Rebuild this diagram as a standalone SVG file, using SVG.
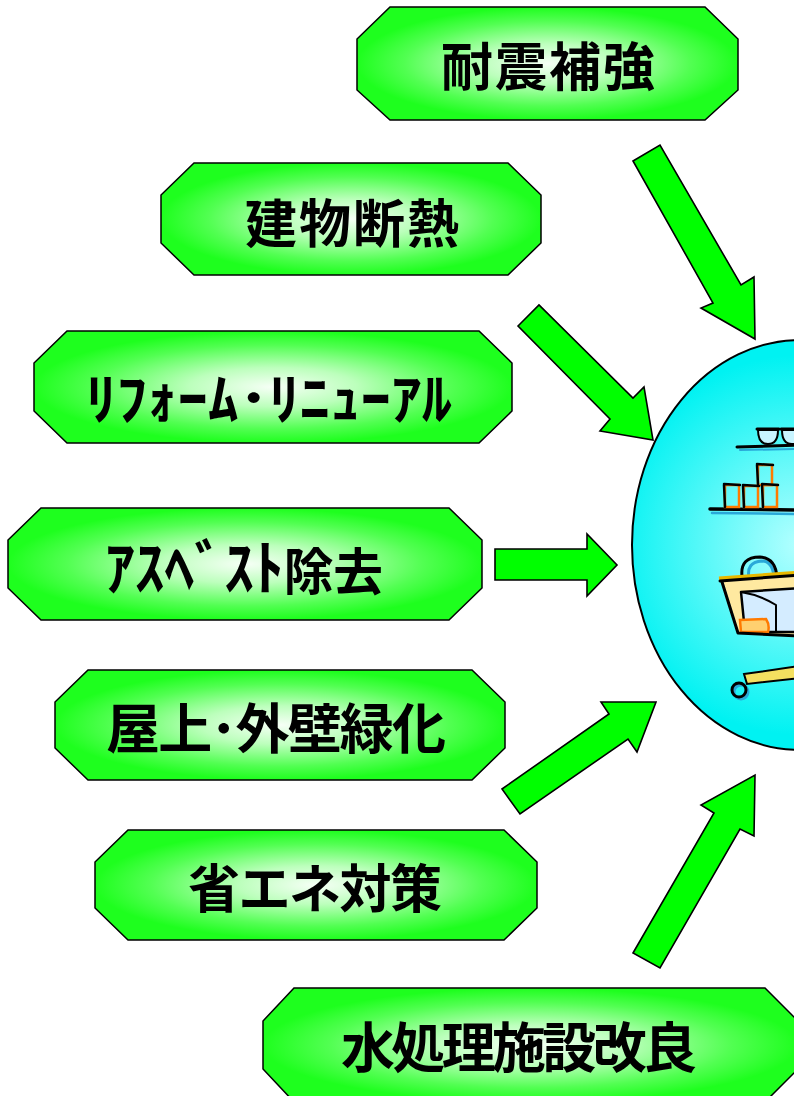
<svg xmlns="http://www.w3.org/2000/svg" width="794" height="1096" viewBox="0 0 794 1096">
  <defs>
    <radialGradient id="nodeFill" cx="0.5" cy="0.5" r="0.5">
      <stop offset="0" stop-color="#f6fff6"/>
      <stop offset="0.35" stop-color="#bcffbc"/>
      <stop offset="0.75" stop-color="#52ff52"/>
      <stop offset="1" stop-color="#1eff1e"/>
    </radialGradient>
    <radialGradient id="hubFill" gradientUnits="userSpaceOnUse" cx="800" cy="545" r="190">
      <stop offset="0" stop-color="#b4ffff"/>
      <stop offset="1" stop-color="#00f2f2"/>
    </radialGradient>
    <clipPath id="hubClip">
      <ellipse cx="800" cy="545" rx="168" ry="205"/>
    </clipPath>
  </defs>
  <style>
    .node { fill: url(#nodeFill); stroke: #000; stroke-width: 1.5; stroke-linejoin: miter; }
    .label { font-family: "Noto Sans CJK JP", "Noto Sans CJK SC", sans-serif; font-weight: bold; fill: #000; }
    .arrow { fill: #00ff00; stroke: #000; stroke-width: 1.6; stroke-linejoin: miter; }
    .ink { fill: none; stroke: #000; stroke-linecap: round; stroke-linejoin: round; }
    .shade { fill: none; stroke: #2aa8d8; stroke-linecap: round; }
  </style>

  <!-- central hub: shop interior -->
  <g id="hub">
    <ellipse cx="800" cy="545" rx="168" ry="205" fill="url(#hubFill)" stroke="#000" stroke-width="2"/>
    <g clip-path="url(#hubClip)">
      <!-- top shelf with bowls -->
      <path class="shade" d="M740,450 L800,449" stroke-width="2"/>
      <path class="ink" d="M737,447 L800,445" stroke-width="3"/>
      <path d="M758,430 L778,430 Q778,444 768,444 Q758,444 758,430 Z" fill="#c8f4ff" stroke="#000" stroke-width="2"/>
      <path d="M782,430 L802,430 Q802,444 792,444 Q782,444 782,430 Z" fill="#c8f4ff" stroke="#000" stroke-width="2"/>
      <path class="ink" d="M757,429 L779,429 M781,429 L800,429" stroke-width="3"/>
      <!-- second shelf with cans -->
      <path class="shade" d="M712,513 L800,514" stroke-width="2.5"/>
      <path class="ink" d="M710,509 L800,510" stroke-width="3.5"/>
      <g fill="none" stroke="#ff7a00" stroke-width="2.5">
        <rect x="725" y="485" width="14" height="22"/>
        <rect x="744" y="486" width="14" height="21"/>
        <rect x="763" y="485" width="14" height="22"/>
        <rect x="758" y="465" width="14" height="20"/>
      </g>
      <path class="ink" d="M724,484 L740,485 M724,485 L725,507 M743,485 L759,486 M743,486 L744,507 M762,484 L778,485 M762,485 L763,507 M757,464 L773,465 M757,465 L758,484" stroke-width="2.5"/>
      <!-- shopping cart -->
      <path class="shade" d="M749,578 Q746,562 762,561 Q772,561 774,576" stroke-width="3"/>
      <path class="ink" d="M742,576 Q740,557 760,557 Q776,558 777,578" stroke-width="3"/>
      <path d="M722,578 L800,572 L800,636 L739,633 Z" fill="#ffe9a0" stroke="none"/>
      <path d="M741,592 L800,588 L800,632 L745,632 Z" fill="#d4ecff" stroke="#000" stroke-width="2.5" stroke-linejoin="round"/>
      <path d="M740,620 L766,619 Q770,625 768,632 L741,632 Z" fill="#ffd070" stroke="#ff7a00" stroke-width="2.5"/>
      <path class="ink" d="M741,592 Q760,595 776,605 L776,632" stroke-width="2"/>
      <path d="M719,579 L800,573" stroke="#e8b800" stroke-width="5" fill="none"/>
      <path class="ink" d="M720,581 L800,575 M722,582 L738,633 L800,636" stroke-width="3"/>
      <!-- cart base and wheel -->
      <path d="M744,674 L800,666 L800,678 L747,684 Z" fill="#f4e060" stroke="#000" stroke-width="2"/>
      <circle cx="741" cy="692" r="7" fill="none" stroke="#2aa8d8" stroke-width="3"/>
      <circle cx="739" cy="690" r="7" fill="none" stroke="#000" stroke-width="3"/>
    </g>
  </g>

  <!-- connectors -->
  <g id="connectors">
    <polygon class="arrow" points="633,161 660,145 741,285 754,277 755,339 701,308 713,303"/>
    <polygon class="arrow" points="518,326 539,305 633,398 644,387 653,440 600,431 610,419"/>
    <polygon class="arrow" points="495,549 587,549 587,534 617,565 587,596 587,580 495,580"/>
    <polygon class="arrow" points="502,789 609,714 601,702 656,702 637,752 628,739 520,814"/>
    <polygon class="arrow" points="633,953 714,813 701,805 755,775 754,836 740,829 660,968"/>
  </g>

  <!-- nodes -->
  <g id="node-taishin">
    <polygon class="node" points="390,7 705,7 738,39 738,90 705,120 390,120 357,90 357,39"/>
    <text class="label" x="441" y="86" font-size="52" textLength="214">耐震補強</text>
  </g>
  <g id="node-dannetsu">
    <polygon class="node" points="194,163 508,163 541,195 541,243 508,275 194,275 161,243 161,195"/>
    <text class="label" x="245" y="243" font-size="52" textLength="214">建物断熱</text>
  </g>
  <g id="node-reform">
    <polygon class="node" points="67,331 479,331 512,363 512,411 479,443 67,443 34,411 34,363"/>
    <text class="label" x="86" y="419" font-size="56" textLength="366" lengthAdjust="spacingAndGlyphs">ﾘﾌｫｰﾑ･ﾘﾆｭｰｱﾙ</text>
  </g>
  <g id="node-asbestos">
    <polygon class="node" points="41,508 449,508 482,540 482,588 449,620 41,620 8,588 8,540"/>
    <text class="label" x="105" y="590" font-size="50" textLength="278" lengthAdjust="spacingAndGlyphs"><tspan font-size="60">ｱｽﾍﾞｽﾄ</tspan>除去</text>
  </g>
  <g id="node-ryokka">
    <polygon class="node" points="88,670 472,670 505,702 505,748 472,780 88,780 55,748 55,702"/>
    <text class="label" x="106" y="749" font-size="54" textLength="340">屋上･外壁緑化</text>
  </g>
  <g id="node-shoene">
    <polygon class="node" points="128,830 504,830 537,862 537,908 504,940 128,940 95,908 95,862"/>
    <text class="label" x="188" y="908" font-size="52" textLength="254">省エネ対策</text>
  </g>
  <g id="node-mizushori">
    <polygon class="node" points="294,988 765,988 798,1021 798,1069 765,1102 294,1102 263,1069 263,1021"/>
    <text class="label" x="341" y="1068" font-size="54" textLength="356">水処理施設改良</text>
  </g>
</svg>
